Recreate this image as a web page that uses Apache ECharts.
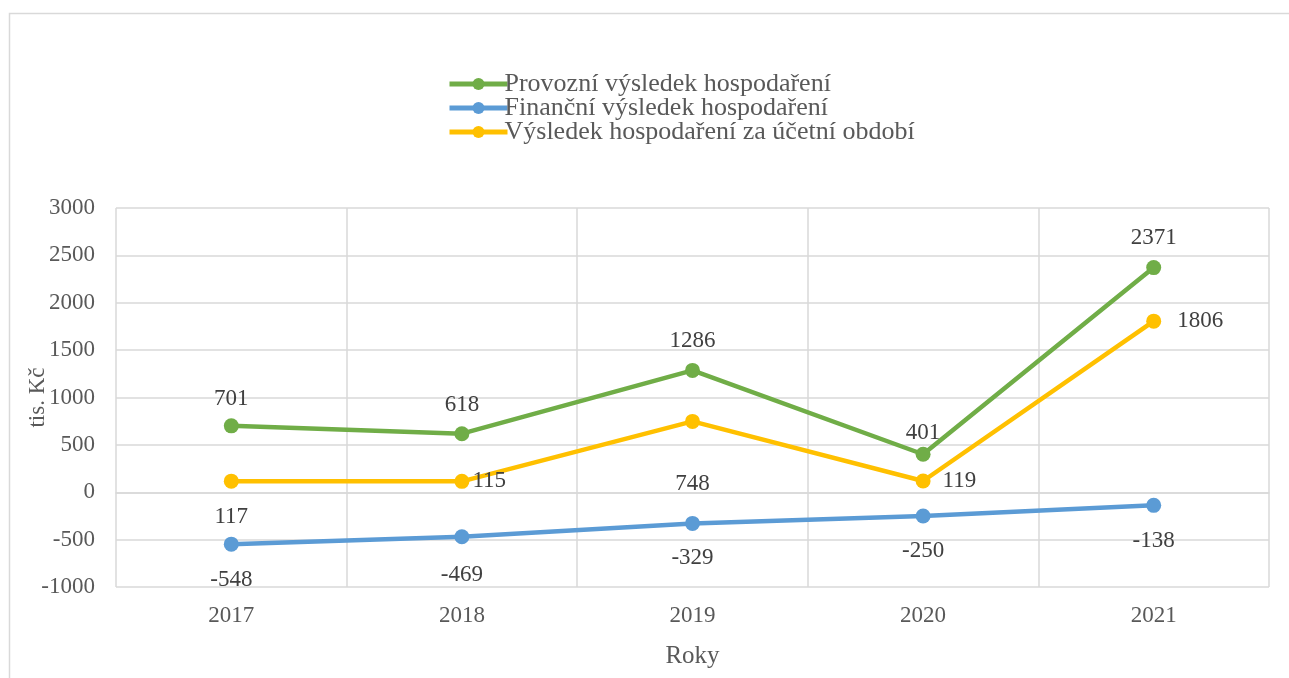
<!DOCTYPE html>
<html><head><meta charset="utf-8">
<script src="https://cdn.jsdelivr.net/npm/echarts@6/dist/echarts.min.js"></script>
<style>html,body{margin:0;padding:0;background:#fff}#c{width:1289px;height:678px}</style>
</head><body><div id="c"></div>
<script>
const years = ['2017','2018','2019','2020','2021'];
const provozni = [701, 618, 1286, 401, 2371];
const financni = [-548, -469, -329, -250, -138];
const vysledek = [117, 115, 748, 119, 1806];
const seriesNames = ['Provozní výsledek hospodaření','Finanční výsledek hospodaření','Výsledek hospodaření za účetní období'];
const yTicks = {min:-1000, max:3000, interval:500};

const F = 'Liberation Serif, Times New Roman, serif';
const lblBase = {show:true, fontFamily:F, fontSize:23, color:'#404040'};

const greenLbl = [{position:'top',distance:8},{position:'top',distance:10},{position:'top',distance:10},{position:'top',distance:2},{position:'top',distance:11}];
const blueLbl = [{position:'bottom',distance:17},{position:'bottom',distance:19},{position:'bottom',distance:16},{position:'bottom',distance:16},{position:'bottom',distance:17}];
const yelLbl = [{position:'bottom',distance:17},{position:'right',distance:3},{position:'bottom',distance:44},{position:'right',distance:12},{position:'right',distance:16}];

function mk(vals, lbls){ return vals.map((v,i)=>({value:v, label:Object.assign({}, lblBase, lbls[i])})); }

const chart = echarts.init(document.getElementById('c'));
chart.setOption({
  animation:false,
  backgroundColor:'#fff',
  graphic:[{type:'rect', shape:{x:9.5,y:13.5,width:1300,height:700}, style:{fill:'none',stroke:'#d9d9d9',lineWidth:1.5}, silent:true}],
  legend:{orient:'vertical', left:442, top:66, itemWidth:58, itemHeight:15, itemGap:-2,
    lineStyle:{width:5},
    textStyle:{fontFamily:F,fontSize:26,color:'#595959',padding:[0,0,0,-8]}, data:seriesNames},
  grid:{left:116, right:20, top:208, bottom:91, containLabel:false},
  xAxis:{type:'category', data:years, boundaryGap:true,
    name:'Roky', nameLocation:'middle', nameGap:57, nameMoveOverlap:false, nameTextStyle:{fontFamily:F,fontSize:25,color:'#595959'},
    axisLine:{show:true,lineStyle:{color:'#d9d9d9',width:1.5}}, axisTick:{show:false},
    axisLabel:{fontFamily:F,fontSize:23,color:'#595959',margin:17},
    splitLine:{show:true,lineStyle:{color:'#d9d9d9',width:1.5}}},
  yAxis:{type:'value', min:yTicks.min, max:yTicks.max, interval:yTicks.interval,
    name:'tis. Kč', nameLocation:'middle', nameGap:67, nameMoveOverlap:false, nameTextStyle:{fontFamily:F,fontSize:23,color:'#595959'},
    axisLine:{show:false}, axisTick:{show:false},
    axisLabel:{fontFamily:F,fontSize:23,color:'#595959',margin:21,formatter:v=>String(v)},
    splitLine:{show:true,lineStyle:{color:'#d9d9d9',width:1.5}}},
  series:[
    {name:seriesNames[0], type:'line', data:mk(provozni,greenLbl), color:'#70AD47', symbol:'circle', symbolSize:15, lineStyle:{width:4.5}, z:3},
    {name:seriesNames[1], type:'line', data:mk(financni,blueLbl), color:'#5B9BD5', symbol:'circle', symbolSize:15, lineStyle:{width:4.5}, z:2},
    {name:seriesNames[2], type:'line', data:mk(vysledek,yelLbl), color:'#FFC000', symbol:'circle', symbolSize:15, lineStyle:{width:4.5}, z:2}
  ]
});
</script></body></html>
